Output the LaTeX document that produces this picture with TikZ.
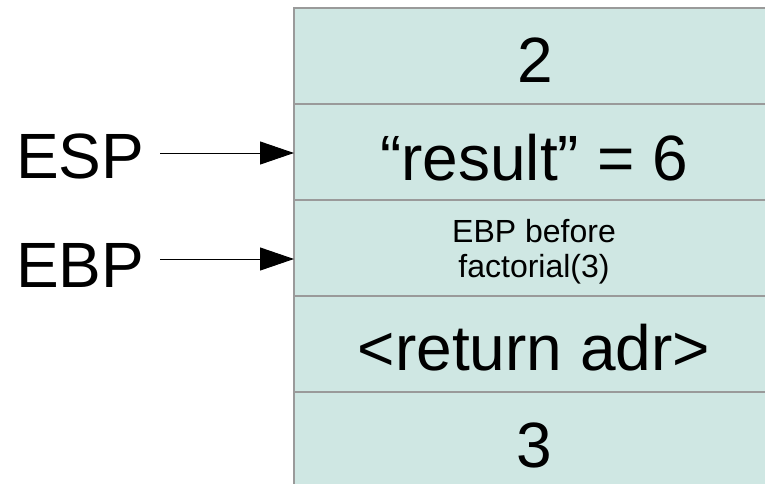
\documentclass[tikz,border=0pt]{standalone}
\usepackage{fontspec}
\setmainfont{Liberation Sans}
\usetikzlibrary{arrows.meta}
\definecolor{cellfill}{HTML}{CFE7E3}
\definecolor{cellline}{HTML}{9A9A9A}
\begin{document}
\begin{tikzpicture}[x=1pt,y=-1pt,
  cell/.style={draw=cellline,line width=1.5pt,fill=cellfill,
    minimum width=480pt,minimum height=96pt,inner sep=0pt,outer sep=0pt,anchor=north west},
  bigtext/.style={font=\fontsize{64}{72}\selectfont,inner sep=0pt,anchor=base},
  smalltext/.style={font=\fontsize{32}{37}\selectfont,inner sep=0pt,anchor=base},
  pointer/.style={line width=1pt,-{Triangle[length=34pt,width=23pt]}}]
  \useasboundingbox (0,0) rectangle (765,483);
  \clip (0,0) rectangle (765,483);
  % stack cells, top to bottom
  \node[cell] (c1) at (294,8) {};
  \node[cell] (c2) at (294,104) {};
  \node[cell] (c3) at (294,200) {};
  \node[cell] (c4) at (294,296) {};
  \node[cell] (c5) at (294,392) {};
  % cell contents
  \node[bigtext] (t1) at (535,82) {2};
  \node[bigtext] (t2) at (534,180) {“result” = 6};
  \node[smalltext] (t3a) at (534,242) {EBP before};
  \node[smalltext] (t3b) at (534,277) {factorial(3)};
  \node[bigtext] (t4) at (534,370) {<return adr>};
  \node[bigtext] (t5) at (534,467) {3};
  % register labels and pointers
  \node[bigtext,anchor=base west] (esp) at (16,178) {ESP};
  \node[bigtext,anchor=base west] (ebp) at (16,287) {EBP};
  \coordinate (espTail) at (160,153);
  \coordinate (ebpTail) at (160,259);
  \draw[pointer] (espTail) -- (c2.west |- espTail);
  \draw[pointer] (ebpTail) -- (c3.west |- ebpTail);
\end{tikzpicture}
\end{document}
